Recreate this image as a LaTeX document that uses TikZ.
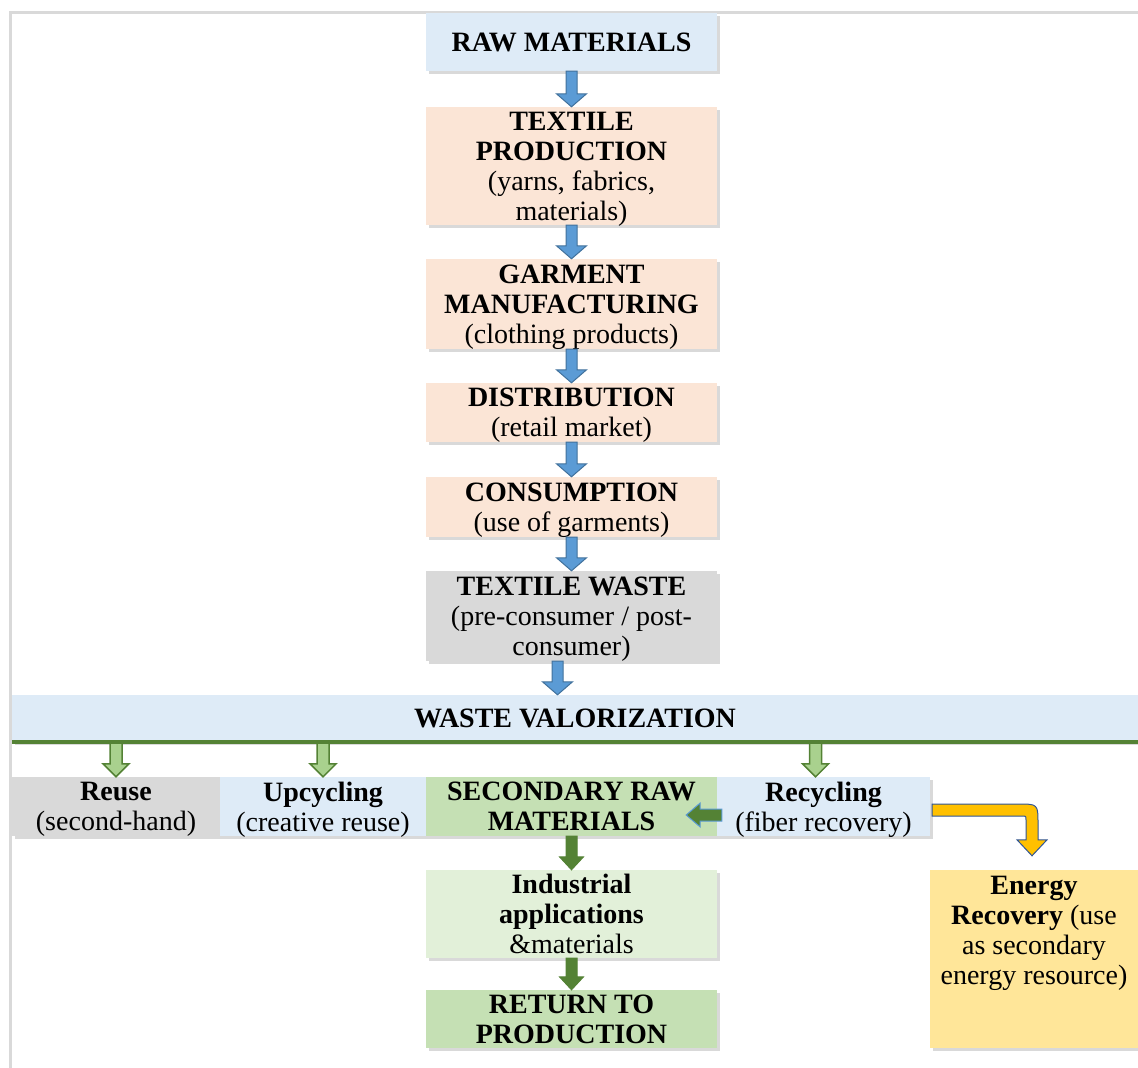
\documentclass[tikz,border=0pt]{standalone}
\usepackage{fontspec}
\setmainfont{Liberation Serif}
\usetikzlibrary{calc,shadows}

\definecolor{boxblue}{HTML}{DEEBF7}
\definecolor{boxpeach}{HTML}{FBE5D6}
\definecolor{boxgray}{HTML}{D9D9D9}
\definecolor{boxgreen}{HTML}{C5E0B4}
\definecolor{boxpale}{HTML}{E2F0D9}
\definecolor{boxyellow}{HTML}{FFE699}
\definecolor{arrblue}{HTML}{5B9BD5}
\definecolor{arrblueline}{HTML}{41719C}
\definecolor{leaf}{HTML}{548235}
\definecolor{leaflight}{HTML}{A9D18E}
\definecolor{amber}{HTML}{FFC000}
\definecolor{amberline}{HTML}{2F5597}

% block arrow pointing down: style, from, to, half shaft, half head
\newcommand{\blockdown}[5]{%
  \draw[#1] let \p1=(#2), \p2=(#3) in
    (\x1-#4,\y1) -- (\x1-#4,\y2+13pt) -- (\x1-#5,\y2+13pt) -- (\x1,\y2)
    -- (\x1+#5,\y2+13pt) -- (\x1+#4,\y2+13pt) -- (\x1+#4,\y1) -- cycle;}

\begin{document}
\begin{tikzpicture}[x=1pt, y=-1pt,
  font=\fontsize{28pt}{30pt}\selectfont,
  stagebox/.style={align=center, inner sep=0pt, minimum width=291pt, text depth=0pt,
    drop shadow={shadow xshift=3pt, shadow yshift=-3pt, opacity=0.3}},
  flowblue/.style={fill=arrblue, draw=arrblueline, line width=1pt},
  flowleaf/.style={fill=leaf, draw=leaf, line width=1pt},
  flowhollow/.style={fill=leaflight, draw=leaf, line width=1.5pt}]

\useasboundingbox (0,0) rectangle (1138,1068);
\draw[black!15, line width=3pt] (10,1068) -- (10,12) -- (1138,12);

% main chain
\node[stagebox, fill=boxblue, minimum height=58pt] (raw) at (571.5,42)
  {\textbf{RAW MATERIALS}};
\node[stagebox, fill=boxpeach, minimum height=118pt] (textile) at (571.5,166)
  {\textbf{TEXTILE}\\ \textbf{PRODUCTION}\\ (yarns, fabrics,\\ materials)};
\node[stagebox, fill=boxpeach, minimum height=90pt] (garment) at (571.5,304)
  {\textbf{GARMENT}\\ \textbf{MANUFACTURING}\\ (clothing products)};
\node[stagebox, fill=boxpeach, minimum height=59pt] (distrib) at (571.5,412.5)
  {\textbf{DISTRIBUTION}\\ (retail market)};
\node[stagebox, fill=boxpeach, minimum height=60pt] (consum) at (571.5,507)
  {\textbf{CONSUMPTION}\\ (use of garments)};
\node[stagebox, fill=boxgray, minimum height=90pt] (waste) at (571.5,616)
  {\textbf{TEXTILE WASTE}\\ (pre-consumer / post-\\ consumer)};
\node[stagebox, fill=boxblue, minimum width=1126pt, minimum height=47pt] (valor) at (575,718.5)
  {\textbf{WASTE VALORIZATION}};

% row of routes
\node[stagebox, fill=boxgray, minimum width=208pt, minimum height=59pt] (reuse) at (116,806.5)
  {\textbf{Reuse}\\ (second-hand)};
\node[stagebox, fill=boxblue, minimum width=206pt, minimum height=59pt] (upcyc) at (323,806.5)
  {\textbf{Upcycling}\\ (creative reuse)};
\node[stagebox, fill=boxgreen, minimum height=59pt] (second) at (571.5,806.5)
  {\textbf{SECONDARY RAW}\\ \textbf{MATERIALS}};
\node[stagebox, fill=boxblue, minimum width=213pt, minimum height=59pt] (recyc) at (823.5,806.5)
  {\textbf{Recycling}\\ (fiber recovery)};

% bottom
\node[stagebox, fill=boxpale, minimum height=88pt] (indus) at (571.5,914)
  {\textbf{Industrial}\\ \textbf{applications}\\ \&materials};
\node[stagebox, fill=boxgreen, minimum height=58pt] (return) at (571.5,1019)
  {\textbf{RETURN TO}\\ \textbf{PRODUCTION}};
\node[stagebox, fill=boxyellow, minimum width=208pt, minimum height=178pt] (energy) at (1034,959) {};
\node[anchor=north, align=center, inner sep=0pt] (energytext) at ($(energy.north)+(0,6)$)
  {\textbf{Energy}\\ \textbf{Recovery} (use\\ as secondary\\ energy resource)};

% arrows
\blockdown{flowblue}{raw.south}{textile.north}{5.5pt}{15pt}
\blockdown{flowblue}{textile.south}{garment.north}{5.5pt}{15pt}
\blockdown{flowblue}{garment.south}{distrib.north}{5.5pt}{15pt}
\blockdown{flowblue}{distrib.south}{consum.north}{5.5pt}{15pt}
\blockdown{flowblue}{consum.south}{waste.north}{5.5pt}{15pt}
\coordinate (wasteout) at ($(waste.south)+(-14,0)$);
\blockdown{flowblue}{wasteout}{wasteout |- valor.north}{5.5pt}{15pt}

\coordinate (recin) at ($(recyc.north)+(-8,0)$);
\blockdown{flowhollow}{reuse.north |- valor.south}{reuse.north}{6pt}{13pt}
\blockdown{flowhollow}{upcyc.north |- valor.south}{upcyc.north}{6pt}{13pt}
\blockdown{flowhollow}{recin |- valor.south}{recin}{6pt}{13pt}
\draw[leaf, line width=4pt] (valor.south west) -- (valor.south east);

\blockdown{flowleaf}{second.south}{indus.north}{5.5pt}{12pt}
\blockdown{flowleaf}{indus.south}{return.north}{5.5pt}{12pt}

\coordinate (backstart) at ($(recyc.west)+(5,8.5)$);
\coordinate (backtip) at ($(second.east)+(-31,8.5)$);
\draw[fill=leaf, draw=arrblue, line width=1pt] let \p1=(backstart), \p2=(backtip) in
  (\x1,\y1+6pt) -- (\x2+14pt,\y1+6pt) -- (\x2+14pt,\y1+12pt) -- (\x2,\y2)
  -- (\x2+14pt,\y1-12pt) -- (\x2+14pt,\y1-6pt) -- (\x1,\y1-6pt) -- cycle;

\coordinate (ambstart) at ($(recyc.east)+(2,3.5)$);
\coordinate (ambtip) at ($(energy.north)+(-2,-14)$);
\draw[fill=amber, draw=amberline, line width=1pt] let \p1=(ambstart), \p2=(ambtip) in
  (\x1,\y1+6pt) -- (\x2-14pt,\y1+6pt) .. controls (\x2+6pt,\y1+6pt) .. (\x2+6pt,\y1-14pt)
  -- (\x2+6pt,\y2+16pt) -- (\x2+15pt,\y2+16pt) -- (\x2,\y2) -- (\x2-15pt,\y2+16pt)
  -- (\x2-6pt,\y2+16pt) -- (\x2-6pt,\y1-10pt) .. controls (\x2-6pt,\y1-6pt) .. (\x2-10pt,\y1-6pt)
  -- (\x1,\y1-6pt) -- cycle;
\end{tikzpicture}
\end{document}
